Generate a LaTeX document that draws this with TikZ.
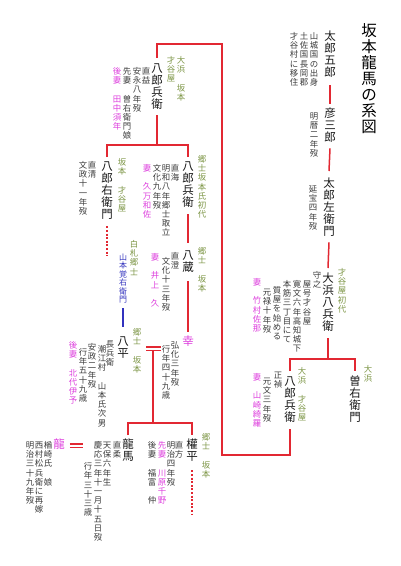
\documentclass[tikz,border=0pt]{standalone}
\usepackage{fontspec}
\newfontfamily\jp{Noto Sans CJK JP}
\newlength\vtgap
\makeatletter
\def\vt@end{vt@end}
\def\vt@aux#1{\ifx\vt@end#1\else\hbox to 1em{\hss\vrule height .88em depth .12em width 0pt\relax#1\hss}\kern\vtgap\expandafter\vt@aux\fi}
\newcommand\vt[1]{\vbox{\offinterlineskip\vt@aux#1\vt@end}}
\makeatother
\definecolor{lred}{RGB}{226,40,50}
\definecolor{lgreen}{RGB}{125,150,70}
\definecolor{lmag}{RGB}{222,64,222}
\definecolor{lblue}{RGB}{50,50,190}
\definecolor{ngray}{RGB}{60,60,60}
\tikzset{
 base/.style={inner sep=0pt, anchor=north},
 ttl/.style={base, font={\jp\fontsize{15.5}{16}\selectfont\setlength\vtgap{0.5pt}}, text=black},
 nm/.style={base, font={\jp\fontsize{11.5}{12}\selectfont\setlength\vtgap{0.5pt}}, text=black!90},
 nt/.style={base, font={\jp\fontsize{8.4}{9}\selectfont\setlength\vtgap{0.8pt}}, text=ngray},
 lb/.style={nt, text=lgreen},
 wf/.style={nt, text=lmag},
 bl/.style={base, font={\jp\fontsize{8}{9}\selectfont\setlength\vtgap{0.5pt}}, text=lblue},
 rel/.style={draw=lred, line width=1.5pt},
 dotline/.style={draw=lred, line width=2pt, dash pattern=on 2pt off 1.6pt},
 bline/.style={draw=lblue, line width=1.5pt},
 dbl/.style={draw=lred, line width=1.2pt},
}
\begin{document}
\begin{tikzpicture}[x=1pt,y=-1pt]
\useasboundingbox[fill=white] (0,0) rectangle (400,566);
% title
\node[ttl] (title) at (369,23) {\vt{坂本龍馬の系図}};
% 太郎五郎
\node[nm] (taro5) at (330,30) {\vt{太郎五郎}};
\node[nt] (n1) at (314,32) {\vt{山城国の出身}};
\node[nt] (n2) at (304,32) {\vt{土佐国長岡郡}};
\node[nt] (n3) at (294,32) {\vt{才谷村に移住}};
% 彦三郎
\node[nm] (hiko) at (330,107) {\vt{彦三郎}};
\node[nt] (n4) at (314,112) {\vt{明暦二年歿}};
% 太郎左衛門
\node[nm] (taroza) at (329,177) {\vt{太郎左衛門}};
\node[nt] (n5) at (313,185) {\vt{延宝四年歿}};
% 大浜八兵衛
\node[nm] (ohama) at (328,272) {\vt{大浜八兵衛}};
\node[lb] (l1) at (342,268) {\vt{才谷屋初代}};
\node[nt] (n6) at (317,271) {\vt{守之}};
\node[nt] (n7) at (307,280) {\vt{屋号才谷屋}};
\node[nt] (n8) at (297,280) {\vt{寛文六年高知城下}};
\node[nt] (n9) at (287,280) {\vt{本筋三丁目にて}};
\node[nt] (n10) at (277,286) {\vt{質屋を始める}};
\node[nt] (n11) at (267,288) {\vt{元禄十年歿}};
\node[wf] (w1) at (257,278) {\vt{妻　竹村佐那}};
% 八郎兵衛 (正禎)
\node[nm] (hachi2) at (290,375) {\vt{八郎兵衛}};
\node[lb] (l2) at (302,367) {\vt{大浜　才谷屋}};
\node[nt] (n12) at (278,371) {\vt{正禎}};
\node[nt] (n13) at (267,377) {\vt{元文三年歿}};
\node[wf] (w2) at (257,373) {\vt{妻　山崎綺羅}};
% 曽右衛門
\node[nm] (soemon) at (355,375) {\vt{曽右衛門}};
\node[lb] (l3) at (368,365) {\vt{大浜}};
% 八郎兵衛 (直益)
\node[nm] (hachi1) at (157,62) {\vt{八郎兵衛}};
\node[lb] (l4) at (181,56) {\vt{大浜　坂本}};
\node[lb] (l5) at (171,56) {\vt{才谷屋}};
\node[nt] (n14) at (146,67) {\vt{直益}};
\node[nt] (n15) at (137,67) {\vt{安永八年歿}};
\node[nt] (n16) at (127,67) {\vt{先妻　曽右衛門娘}};
\node[wf] (w3) at (117,67) {\vt{後妻　田中須年}};
% 八郎右衛門
\node[nm] (hachiemon) at (107,160) {\vt{八郎右衛門}};
\node[lb] (l6) at (122,158) {\vt{坂本　才谷屋}};
\node[nt] (n17) at (92,161) {\vt{直清}};
\node[nt] (n18) at (83,161) {\vt{文政十一年歿}};
% 八郎兵衛 (直海)
\node[nm] (hachi3) at (188,160) {\vt{八郎兵衛}};
\node[lb] (l7) at (202,155) {\vt{郷士坂本氏初代}};
\node[nt] (n19) at (175,164) {\vt{直海}};
\node[nt] (n20) at (166,164) {\vt{明和八年郷士取立}};
\node[nt] (n21) at (157,164) {\vt{文化九年歿}};
\node[wf] (w4) at (147,164) {\vt{妻　久万和佐}};
% 八蔵
\node[nm] (hachizo) at (188,249) {\vt{八蔵}};
\node[lb] (l8) at (202,247) {\vt{郷士　坂本}};
\node[nt] (n22) at (175,252) {\vt{直澄}};
\node[nt] (n23) at (166,257) {\vt{文化十三年歿}};
\node[wf] (w5) at (155,253) {\vt{妻　井上　久}};
% 幸
\node[nm, text=lmag] (ko) at (188,335) {\vt{幸}};
\node[nt] (n24) at (175,341) {\vt{弘化三年歿}};
\node[nt] (n25) at (166,345) {\vt{行年四十九歳}};
% 山本覚右衛門
\node[lb] (l9) at (134,240) {\vt{白札郷士}};
\node[bl] (kaku) at (123,253) {\vt{山本覚右衛門}};
% 八平
\node[nm] (hachihei) at (123,335) {\vt{八平}};
\node[lb] (l10) at (137,328) {\vt{郷士　坂本}};
\node[nt] (n26) at (110,340) {\vt{長兵衛}};
\node[nt] (n27) at (102,345) {\vt{潮江村　山本氏次男}};
\node[nt] (n28) at (92,343) {\vt{安政二年歿}};
\node[nt] (n29) at (83,348) {\vt{行年五十九歳}};
\node[wf] (w6) at (73,341) {\vt{後妻　北代伊予}};
% 龍馬
\node[nm] (ryoma) at (128,438) {\vt{龍馬}};
\node[nt] (n30) at (117,441) {\vt{直柔}};
\node[nt] (n31) at (107,441) {\vt{天保六年生}};
\node[nt] (n32) at (98,441) {\vt{慶応三年十一月十五日歿}};
\node[nt] (n33) at (88,462) {\vt{行年三十三歳}};
% 龍
\node[nm, text=lmag] (ryo) at (59,438) {\vt{龍}};
\node[nt] (n34) at (48,441) {\vt{楢崎氏　娘}};
\node[nt] (n35) at (39,441) {\vt{西村松兵衛に再嫁}};
\node[nt] (n36) at (30,441) {\vt{明治三十九年歿}};
% 權平
\node[nm] (gonpei) at (192,438) {\vt{權平}};
\node[lb] (l11) at (206,433) {\vt{郷士　坂本}};
\node[nt] (n37) at (179,441) {\vt{直方}};
\node[nt] (n38) at (171,441) {\vt{明治四年歿}};
\node[wf] (w7) at (162,441) {\vt{先妻　川原千野}};
\node[nt] (n39) at (152,441) {\vt{後妻　福富　仲}};
% coordinates
\coordinate (br1) at (328,359);
\coordinate (lb1) at (222,455);
\coordinate (lt1) at (222,44);
\coordinate (br2) at (157,145);
\coordinate (d1) at (107,256);
\coordinate (d2) at (192,514);
\coordinate (m1) at (146,347);
\coordinate (m2) at (161,347);
\coordinate (m3) at (146,350.5);
\coordinate (m4) at (161,350.5);
\coordinate (mtop) at (153,350.5);
\coordinate (kid) at (153,423);
% connectors
\draw[rel] ([yshift=-7pt]taro5.south) -- ([yshift=3pt]hiko.north);
\draw[rel] ([yshift=-5pt]hiko.south) -- ([yshift=6pt]taroza.north);
\draw[rel] ([yshift=-5pt]taroza.south) -- ([yshift=4pt]ohama.north);
\draw[rel] ([yshift=-6pt]ohama.south) -- (br1);
\draw[rel] ([yshift=4pt]hachi2.north) -- (hachi2.north |- br1) -- (soemon.north |- br1) -- ([yshift=4pt]soemon.north);
\draw[rel] ([yshift=-6pt]hachi2.south) -- (hachi2.south |- lb1) -- (lb1) -- (lt1) -- (hachi1.north |- lt1) -- ([yshift=4pt]hachi1.north);
\draw[rel] ([yshift=-5pt]hachi1.south) -- (br2);
\draw[rel] ([yshift=3pt]hachiemon.north) -- (hachiemon.north |- br2) -- (hachi3.north |- br2) -- ([yshift=3pt]hachi3.north);
\draw[dotline] ([yshift=-6pt]hachiemon.south) -- (d1);
\draw[rel] ([yshift=-6pt]hachi3.south) -- ([yshift=6pt]hachizo.north);
\draw[rel] ([yshift=-8pt]hachizo.south) -- ([yshift=3pt]ko.north);
\draw[bline] ([yshift=-4pt]kaku.south) -- ([yshift=8pt]hachihei.north);
\draw[dbl] (m1) -- (m2);
\draw[dbl] (m3) -- (m4);
\draw[rel] (mtop) -- (kid);
\draw[rel] ([yshift=3pt]ryoma.north) -- (ryoma.north |- kid) -- (gonpei.north |- kid) -- ([yshift=3pt]gonpei.north);
\draw[dbl] ([xshift=5pt,yshift=-6pt]ryo.north east) -- ([xshift=18pt,yshift=-6pt]ryo.north east);
\draw[dbl] ([xshift=5pt,yshift=-9.5pt]ryo.north east) -- ([xshift=18pt,yshift=-9.5pt]ryo.north east);
\draw[dotline] ([yshift=-8pt]gonpei.south) -- (d2);
\end{tikzpicture}
\end{document}
